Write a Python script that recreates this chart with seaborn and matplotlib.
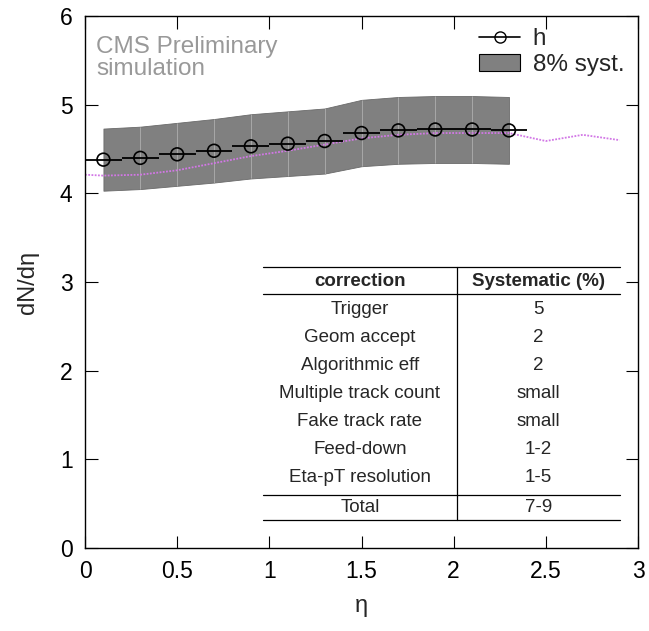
import numpy as np
import pandas as pd
import matplotlib
matplotlib.use("Agg")
import matplotlib.pyplot as plt
import seaborn as sns
from matplotlib.patches import Patch
from matplotlib.lines import Line2D

# ---- data ----
eta = [0.1, 0.3, 0.5, 0.7, 0.9, 1.1, 1.3, 1.5, 1.7, 1.9, 2.1, 2.3]
dndeta = [4.38, 4.40, 4.44, 4.48, 4.53, 4.56, 4.59, 4.68, 4.71, 4.72, 4.72, 4.71]
eta_halfwidth = 0.1
syst_frac = 0.08

sim_eta = [0.0, 0.1, 0.3, 0.5, 0.7, 0.9, 1.1, 1.3, 1.5, 1.7, 1.9, 2.1, 2.3, 2.5, 2.7, 2.9]
sim_dndeta = [4.21, 4.20, 4.21, 4.26, 4.34, 4.42, 4.48, 4.55, 4.62, 4.66, 4.68, 4.68, 4.68, 4.59, 4.66, 4.60]

corrections = ["Trigger", "Geom accept", "Algorithmic eff", "Multiple track count",
               "Fake track rate", "Feed-down", "Eta-pT resolution"]
systematics = ["5", "2", "2", "small", "small", "1-2", "1-5"]
total_label = ("Total", "7-9")

xticks = [0, 0.5, 1, 1.5, 2, 2.5, 3]
xticklabels = ["0", "0.5", "1", "1.5", "2", "2.5", "3"]
yticks = [0, 1, 2, 3, 4, 5, 6]

# ---- style ----
sns.set_theme(style="ticks")
plt.rcParams['font.family'] = ['Liberation Sans', 'DejaVu Sans']

fig = plt.figure(figsize=(6.49, 6.31), dpi=100)
ax = fig.add_axes([85/649, 1-548/631, 553/649, 532/631])

df = pd.DataFrame({"eta": eta, "dndeta": dndeta})
df["lo"] = df["dndeta"] * (1 - syst_frac)
df["hi"] = df["dndeta"] * (1 + syst_frac)

# systematic band
ax.fill_between(df["eta"], df["lo"], df["hi"], facecolor="#808080", edgecolor="#6a6a6a",
                linewidth=0.6, zorder=1)
ax.vlines(df["eta"][1:-1], df["lo"][1:-1], df["hi"][1:-1], colors="#a8a8a8", linewidth=0.7, zorder=1.5)

# simulation curve
sim = pd.DataFrame({"eta": sim_eta, "dndeta": sim_dndeta})
sns.lineplot(data=sim, x="eta", y="dndeta", ax=ax, color="#d277e6", linestyle=(0, (1, 0.8)),
             linewidth=1.3, zorder=2, legend=False)

# data points with horizontal bars
ax.errorbar(df["eta"], df["dndeta"], xerr=eta_halfwidth, fmt="none", ecolor="black",
            elinewidth=1.3, capsize=0, zorder=3)
sns.scatterplot(data=df, x="eta", y="dndeta", ax=ax, marker="o", s=85,
                facecolors="none", edgecolor="black", linewidth=1.2, zorder=4, legend=False)

ax.set_xlim(0, 3)
ax.set_ylim(0, 6)
ax.set_xticks(xticks)
ax.set_xticklabels(xticklabels)
ax.set_yticks(yticks)
ax.tick_params(direction="in", length=9, width=0.8, top=True, right=True,
               labelsize=16.5, pad=9, colors="black")
for s in ax.spines.values():
    s.set_linewidth(1.0)
    s.set_color("black")

ax.set_xlabel("η", fontsize=17, labelpad=8)
ax.set_ylabel("dN/dη", fontsize=17, labelpad=15)

# CMS label
ax.text(0.02, 0.962, "CMS Preliminary\nsimulation", transform=ax.transAxes, fontsize=17.5,
        color="#999999", va="top", ha="left", linespacing=1.0)

# legend
handles = [Line2D([0], [0], color="black", marker="o", markerfacecolor="none",
                  markeredgecolor="black", markersize=8, linewidth=1.2),
           Patch(facecolor="#808080", edgecolor="black", linewidth=0.8)]
leg = ax.legend(handles, ["h", "8% syst."], loc="upper right", frameon=False, fontsize=17.5,
                handlelength=1.7, handletextpad=0.5, labelspacing=0.15,
                borderaxespad=0.1, bbox_to_anchor=(0.997, 1.0))

# systematic table (axes fraction coords)
def fx(px):
    return (px - 85) / 553
def fy(py):
    return (548 - py) / 532

tl, tr, td = fx(263), fx(620), fx(457)
kw = dict(transform=ax.transAxes, color="black", linewidth=0.9)
for py in (267, 294, 495, 520):
    ax.add_line(Line2D([tl, tr], [fy(py), fy(py)], **kw))
ax.add_line(Line2D([td, td], [fy(267), fy(520)], **kw))

cl = (tl + td) / 2
cr = (td + tr) / 2
tkw = dict(transform=ax.transAxes, ha="center", va="center", fontsize=13.5)
ax.text(cl, fy(281), "correction", fontweight="bold", **tkw)
ax.text(cr, fy(281), "Systematic (%)", fontweight="bold", **tkw)
row_y = [310, 338, 366, 394, 422, 450, 478]
for name, val, py in zip(corrections, systematics, row_y):
    ax.text(cl, fy(py), name, **tkw)
    ax.text(cr, fy(py), val, **tkw)
ax.text(cl, fy(507), total_label[0], **tkw)
ax.text(cr, fy(507), total_label[1], **tkw)

fig.savefig("out.png", dpi=100)
